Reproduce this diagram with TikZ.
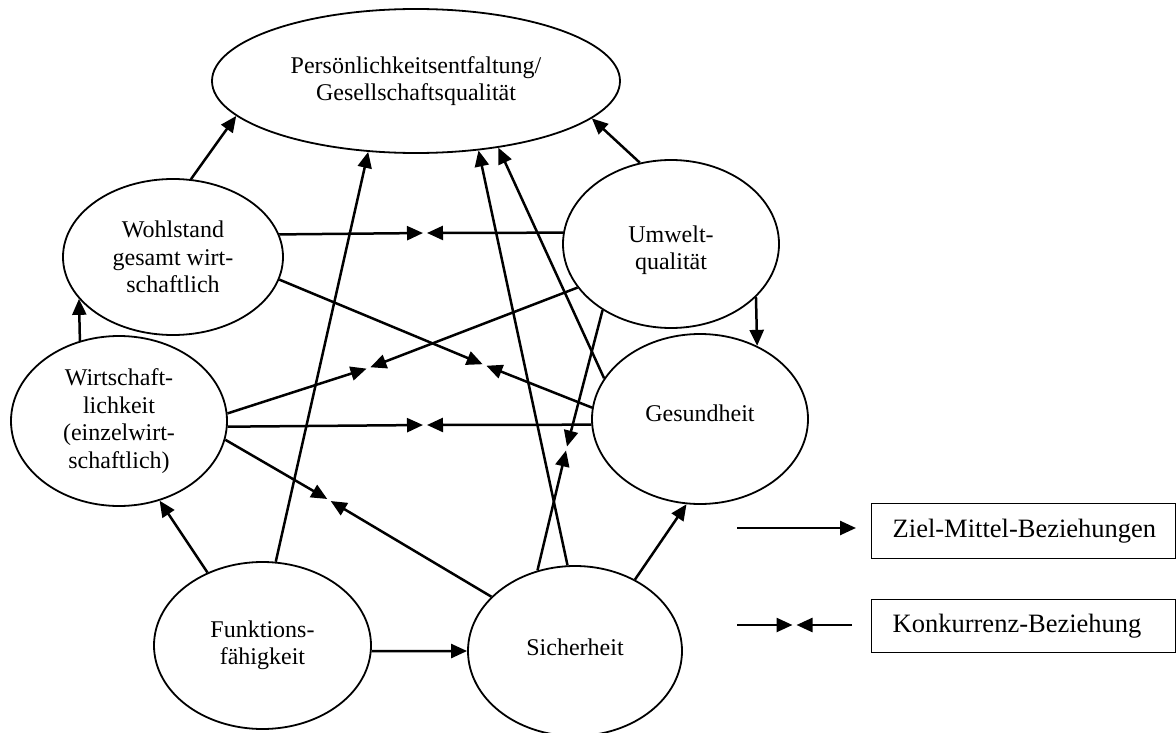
\documentclass[tikz,border=0pt]{standalone}
\usepackage{fontspec}
\setmainfont{Liberation Serif}
\usetikzlibrary{shapes.geometric,arrows.meta}
\begin{document}
\begin{tikzpicture}[x=1pt,y=-1pt,
  goal/.style={draw,ellipse,line width=1.8pt,inner sep=0pt,align=center,
    font=\fontsize{24}{27.5}\selectfont},
  link/.style={line width=2.5pt,-{Triangle[length=16pt,width=14pt]}},
  meet/.style={link,shorten >=2pt},
  keybox/.style={draw,rectangle,line width=1.4pt,anchor=north west,
    inner xsep=21pt,inner ysep=0pt,text width=262pt,align=left,
    font=\fontsize{26.5}{30}\selectfont}]
\useasboundingbox (0,0) rectangle (1176,733);

% goals
\node[goal,minimum width=408pt,minimum height=144pt] (pers) at (416,81)
  {Persönlichkeitsentfaltung/\\Gesellschaftsqualität};
\node[goal,minimum width=220pt,minimum height=156pt] (wohl) at (173,257)
  {Wohlstand\\gesamt wirt-\\schaftlich};
\node[goal,minimum width=216pt,minimum height=168pt] (umw) at (671,244)
  {\rule{0pt}{29pt}Umwelt-\\qualität};
\node[goal,minimum width=216pt,minimum height=170pt] (wirt) at (119,421)
  {Wirtschaft-\\lichkeit\\(einzelwirt-\\schaftlich)};
\node[goal,minimum width=216pt,minimum height=170pt] (ges) at (700,419)
  {Gesundheit\rule[-12pt]{0pt}{12pt}};
\node[goal,minimum width=217pt,minimum height=167pt] (funk) at (262.5,645.5)
  {Funktions-\\fähigkeit};
\node[goal,minimum width=214pt,minimum height=170pt] (sich) at (575,651)
  {Sicherheit\rule[-8pt]{0pt}{8pt}};

% meeting points of competing goals
\coordinate (k1) at (425,233);
\coordinate (k2) at (425,425);
\coordinate (k3) at (484.5,365);
\coordinate (k4) at (368.5,368);
\coordinate (k5) at (329,500);
\coordinate (k6) at (566.5,448.5);

% means-end relations
\draw[link] (wohl.77.6) -- (pers.191);
\draw[link] (funk.81.5) -- (pers.236);
\draw[link] (sich.95.6) -- (pers.312);
\draw[link] (ges.157) -- (pers.321.3);
\draw[link] (umw.111.2) -- (pers.348.6);
\draw[link] (wirt.116.2) -- (wohl.204.1);
\draw[link] (funk.127.4) -- (wirt.297.1);
\draw[link] (funk.357.1) -- (sich.west);
\draw[link] (sich.50.1) -- (ges.261.2);
\draw[link] (umw.328.6) -- (ges.52.4);

% competing relations
\draw[meet] (wohl.12.9) -- (k1);
\draw[meet] (umw.174.1) -- (k1);
\draw[meet] (wirt.357.9) -- (k2);
\draw[meet] (ges.183.2) -- (k2);
\draw[meet] (wohl.348.7) -- (k3);
\draw[meet] (ges.174.7) -- (k3);
\draw[meet] (wirt.4.8) -- (k4);
\draw[meet] (umw.205.6) -- (k4);
\draw[meet] (wirt.350) -- (k5);
\draw[meet] (sich.147.8) -- (k5);
\draw[meet] (umw.224.6) -- (k6);
\draw[meet] (sich.115.4) -- (k6);

% key
\coordinate (z1) at (737,528);
\coordinate (z2) at (856,528);
\draw[link] (z1) -- (z2);
\coordinate (r1) at (737,625);
\coordinate (r2) at (852,625);
\coordinate (k7) at (794.5,625);
\draw[meet] (r1) -- (k7);
\draw[meet] (r2) -- (k7);
\node[keybox,minimum height=55pt] (zm) at (871,503) {\mbox{Ziel-Mittel-Beziehungen}};
\node[keybox,minimum height=53pt] (kb) at (871,599) {\mbox{Konkurrenz-Beziehung}};
\end{tikzpicture}
\end{document}
